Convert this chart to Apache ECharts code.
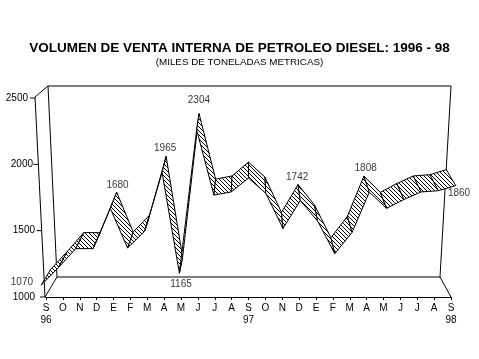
<!DOCTYPE html>
<html><head><meta charset="utf-8">
<script src="https://cdn.jsdelivr.net/npm/echarts@6/dist/echarts.min.js"></script>
<style>html,body{margin:0;padding:0;background:#fff}#c{width:479px;height:359px}</style>
</head><body><div id="c"></div>
<script>
// ---- data ----
const months = ['S','O','N','D','E','F','M','A','M','J','J','A','S','O','N','D','E','F','M','A','M','J','J','A','S'];
const yearMarks = ['96','','','','','','','','','','','','97','','','','','','','','','','','','98'];
const volumes = [1070,1210,1360,1360,1680,1365,1500,1965,1165,2304,1785,1810,1920,1800,1520,1742,1580,1320,1490,1808,1680,1750,1810,1820,1860];
const labeledIdx = [0,4,7,8,9,15,19,24];
const yTicks = [1000,1500,2000,2500];

// ---- styles ----
const FONT = '"Liberation Sans", Arial, sans-serif';
const labelPlace = {
  0:{position:'left',distance:13,offset:[0,5]},
  4:{position:'top',distance:10,offset:[4,0]},
  7:{position:'top',distance:11,offset:[1,0]},
  8:{position:'bottom',distance:14,offset:[0,0]},
  9:{position:'top',distance:16,offset:[1,0]},
  15:{position:'top',distance:10,offset:[-2,0]},
  19:{position:'top',distance:11,offset:[-1,0]},
  24:{position:'bottom',distance:11,offset:[8,0]}
};
const tickPad = {1000:0,1500:0,2000:2,2500:7};

// hatch pattern
const pc = document.createElement('canvas');
pc.width = 4; pc.height = 4;
const g = pc.getContext('2d');
g.fillStyle = '#fff'; g.fillRect(0,0,4,4);
g.fillStyle = '#000';
for (let i=0;i<4;i++) g.fillRect(i,i,1,1);
const hatch = {image: pc, repeat: 'repeat'};

const chart = echarts.init(document.getElementById('c'), null, {renderer:'canvas'});
const plotCenterX = 250;
function depth(x){ return [0.047*(plotCenterX - x), -16]; }

const rich = {};
yTicks.forEach(v => { rich['t'+v] = {fontSize:10, fontFamily:FONT, color:'#000', padding:[0,tickPad[v],0,0]}; });

chart.setOption({
  animation:false,
  backgroundColor:'#fff',
  title:{
    text:'VOLUMEN DE VENTA INTERNA DE PETROLEO DIESEL: 1996 - 98',
    subtext:'(MILES DE TONELADAS METRICAS)',
    left:'center', top:36, itemGap:2,
    textStyle:{fontSize:13.5, fontWeight:'bold', color:'#000', fontFamily:FONT},
    subtextStyle:{fontSize:9.8, color:'#000', fontFamily:FONT}
  },
  grid:[
    {left:46, right:28, top:97, bottom:73},
    {left:45, right:28, top:98, bottom:62}
  ],
  xAxis:[
    {type:'category', gridIndex:0, data:months, boundaryGap:false, offset:11,
     axisLine:{lineStyle:{color:'#000', width:1}},
     axisTick:{length:3, lineStyle:{color:'#000'}, interval:0},
     axisLabel:{interval:0, fontSize:10, fontFamily:FONT, color:'#000', margin:5, lineHeight:12,
       formatter:(v,i)=> yearMarks[i] ? v+'\n'+yearMarks[i] : v},
     splitLine:{show:false}},
    {type:'value', gridIndex:1, show:false}
  ],
  yAxis:[
    {type:'value', gridIndex:0, min:1000, max:2500, show:false},
    {type:'value', gridIndex:1, min:1000, max:2500, interval:500,
     axisLine:{show:false}, axisTick:{show:false}, splitLine:{show:false},
     axisLabel:{margin:10, formatter:v=>'{t'+v+'|'+v+'}', rich:rich}}
  ],
  series:[
    {type:'custom', xAxisIndex:0, yAxisIndex:0, coordinateSystem:'cartesian2d',
     data: volumes.map((v,i)=>[i,v]),
     renderItem:(params, api)=>{
       const i = params.dataIndex;
       if (i >= volumes.length-1) return null;
       const a = api.coord([i, volumes[i]]);
       const b = api.coord([i+1, volumes[i+1]]);
       const da = depth(a[0]), db = depth(b[0]);
       const pts = [
         [a[0]-da[0]/2, a[1]-da[1]/2],
         [b[0]-db[0]/2, b[1]-db[1]/2],
         [b[0]+db[0]/2, b[1]+db[1]/2],
         [a[0]+da[0]/2, a[1]+da[1]/2]
       ];
       return {type:'polygon', shape:{points:pts}, style:{fill:hatch, stroke:'#000', lineWidth:1}};
     }},
    {type:'scatter', xAxisIndex:0, yAxisIndex:0, symbolSize:0, z:5,
     data: labeledIdx.map(i=>({value:[i, volumes[i]], label:Object.assign({show:true}, labelPlace[i])})),
     label:{show:true, fontSize:10, fontFamily:FONT, color:'#000', formatter:p=>String(p.value[1])}}
  ]
});

// frame (3D box)
const bTL=[48,86], bTR=[451,86], bBR=[440,277], bBL=[57,277], fTL=[35,97], fBL=[45,297], fBR=[451,297];
function ln(p,q){ return {type:'line', shape:{x1:p[0],y1:p[1],x2:q[0],y2:q[1]}, style:{stroke:'#000', lineWidth:1}, z:0}; }
const frame = [ln(bTL,bTR), ln(bTR,bBR), ln(bBL,bBR), ln(bTL,bBL), ln(fTL,bTL), ln(fBL,bBL), ln(fTL,fBL), ln(bBR,fBR), ln(fBL,[46,297])];
yTicks.forEach(v=>{
  const y = chart.convertToPixel({yAxisIndex:1}, v);
  const t = (y - fTL[1])/(fBL[1]-fTL[1]);
  const x = fTL[0] + t*(fBL[0]-fTL[0]);
  frame.push(ln([x-5,y],[x,y]));
});
chart.setOption({graphic:frame});
</script></body></html>
